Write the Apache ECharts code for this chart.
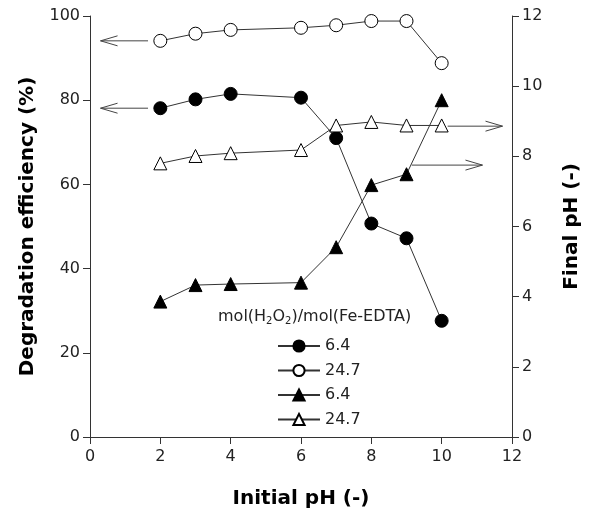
<!DOCTYPE html>
<html>
<head>
<meta charset="utf-8">
<script src="https://cdn.jsdelivr.net/npm/echarts@6/dist/echarts.min.js"></script>
<style>
  html, body { margin: 0; padding: 0; background: #fff; }
  #chart { width: 592px; height: 518px; }
</style>
</head>
<body>
<div id="chart"></div>
<script>
// initial pH values (x)
const initialPH = [2, 3, 4, 6, 7, 8, 9, 10];

// degradation efficiency (%) -> left axis
const degLow = [78.1, 80.2, 81.5, 80.6, 71.0, 50.7, 47.2, 27.6];    // 6.4
const degHigh = [94.1, 95.8, 96.7, 97.2, 97.8, 98.8, 98.8, 88.8];   // 24.7

// final pH (-) -> right axis
const finalLow = [3.86, 4.33, 4.36, 4.4, 5.41, 7.18, 7.49, 9.6];    // 6.4
const finalHigh = [7.8, 8.01, 8.09, 8.18, 8.88, 8.98, 8.88, 8.88];  // 24.7

// arrows [xFrom, xTo, y] in data units
const leftArrows = [[1.65, 0.3, 94.1], [1.65, 0.3, 78.1]];
const rightArrows = [[10.17, 11.73, 8.86], [9.15, 11.16, 7.75]];

const xTicks = [0, 2, 4, 6, 8, 10, 12];

const legendLabels = {
    degLow: "6.4",
    degHigh: "24.7",
    finalLow: "6.4",
    finalHigh: "24.7"
};

const FONT = "DejaVu Sans";
const INK = "#222";

const chart = echarts.init(document.getElementById("chart"));

const pair = (xs, ys) => xs.map((x, i) => [x, ys[i]]);

const lineSeries = (name, values, axis, symbol, filled) => ({
    name: name,
    type: "line",
    yAxisIndex: axis,
    data: pair(initialPH, values),
    symbol: symbol,
    symbolSize: 13,
    showSymbol: true,
    lineStyle: { color: "#333", width: 1 },
    itemStyle: {
        color: filled ? "#000" : "#fff",
        borderColor: "#000",
        borderWidth: 1
    },
    emphasis: { disabled: true },
    z: 3
});

const arrowSeries = (arrows, axis) => ({
    type: "custom",
    yAxisIndex: axis,
    silent: true,
    data: arrows,
    encode: { x: [0, 1], y: 2 },
    renderItem: (params, api) => {
        const a = api.coord([api.value(0), api.value(2)]);
        const b = api.coord([api.value(1), api.value(2)]);
        const dir = b[0] > a[0] ? 1 : -1;
        const len = 17, half = 5;
        const style = { stroke: "#444", lineWidth: 1, fill: null };
        return {
            type: "group",
            children: [
                { type: "line", shape: { x1: a[0], y1: a[1], x2: b[0], y2: b[1] }, style: style },
                {
                    type: "polyline",
                    shape: { points: [[b[0] - dir * len, b[1] - half], [b[0], b[1]], [b[0] - dir * len, b[1] + half]] },
                    style: style
                }
            ]
        };
    },
    z: 2
});

const axisCommon = {
    axisLine: { show: true, lineStyle: { color: "#333", width: 1 } },
    axisTick: { show: true, length: 7, lineStyle: { color: "#333" } },
    splitLine: { show: false },
    axisLabel: { color: INK, fontFamily: FONT, fontSize: 16 },
    nameLocation: "middle",
    nameTextStyle: { color: "#000", fontFamily: FONT, fontSize: 20, fontWeight: "bold" }
};

const option = {
    backgroundColor: "#fff",
    animation: false,
    grid: { left: 90, right: 80, top: 16, bottom: 81 },
    xAxis: {
        ...axisCommon,
        type: "value",
        min: xTicks[0],
        max: xTicks[xTicks.length - 1],
        interval: 2,
        name: "Initial pH (-)",
        nameGap: 52,
        axisLabel: { ...axisCommon.axisLabel, margin: 12 }
    },
    yAxis: [
        {
            ...axisCommon,
            type: "value",
            min: 0,
            max: 100,
            interval: 20,
            name: "Degradation efficiency (%)",
            nameRotate: 90,
            nameGap: 52,
            axisLabel: { ...axisCommon.axisLabel, margin: 10 }
        },
        {
            ...axisCommon,
            type: "value",
            position: "right",
            min: 0,
            max: 12,
            interval: 2,
            name: "Final pH (-)",
            nameRotate: 90,
            nameGap: 50,
            axisLabel: { ...axisCommon.axisLabel, margin: 10 }
        }
    ],
    legend: {
        orient: "vertical",
        left: 272,
        top: 333,
        itemWidth: 42,
        itemHeight: 14,
        itemGap: 8.5,
        data: ["degLow", "degHigh", "finalLow", "finalHigh"],
        formatter: (name) => legendLabels[name],
        textStyle: { color: INK, fontFamily: FONT, fontSize: 16 },
        selectedMode: false
    },
    graphic: [
        {
            type: "text",
            left: 218,
            top: 309,
            style: {
                text: "mol(H{sub|2}O{sub|2})/mol(Fe-EDTA)",
                fontFamily: FONT,
                fontSize: 16,
                fill: INK,
                rich: {
                    sub: { fontFamily: FONT, fontSize: 10, fill: INK, padding: [9, 0, 0, 0] }
                }
            }
        }
    ],
    series: [
        lineSeries("degLow", degLow, 0, "circle", true),
        lineSeries("degHigh", degHigh, 0, "circle", false),
        lineSeries("finalLow", finalLow, 1, "triangle", true),
        lineSeries("finalHigh", finalHigh, 1, "triangle", false),
        arrowSeries(leftArrows, 0),
        arrowSeries(rightArrows, 1)
    ]
};

chart.setOption(option);
</script>
</body>
</html>
